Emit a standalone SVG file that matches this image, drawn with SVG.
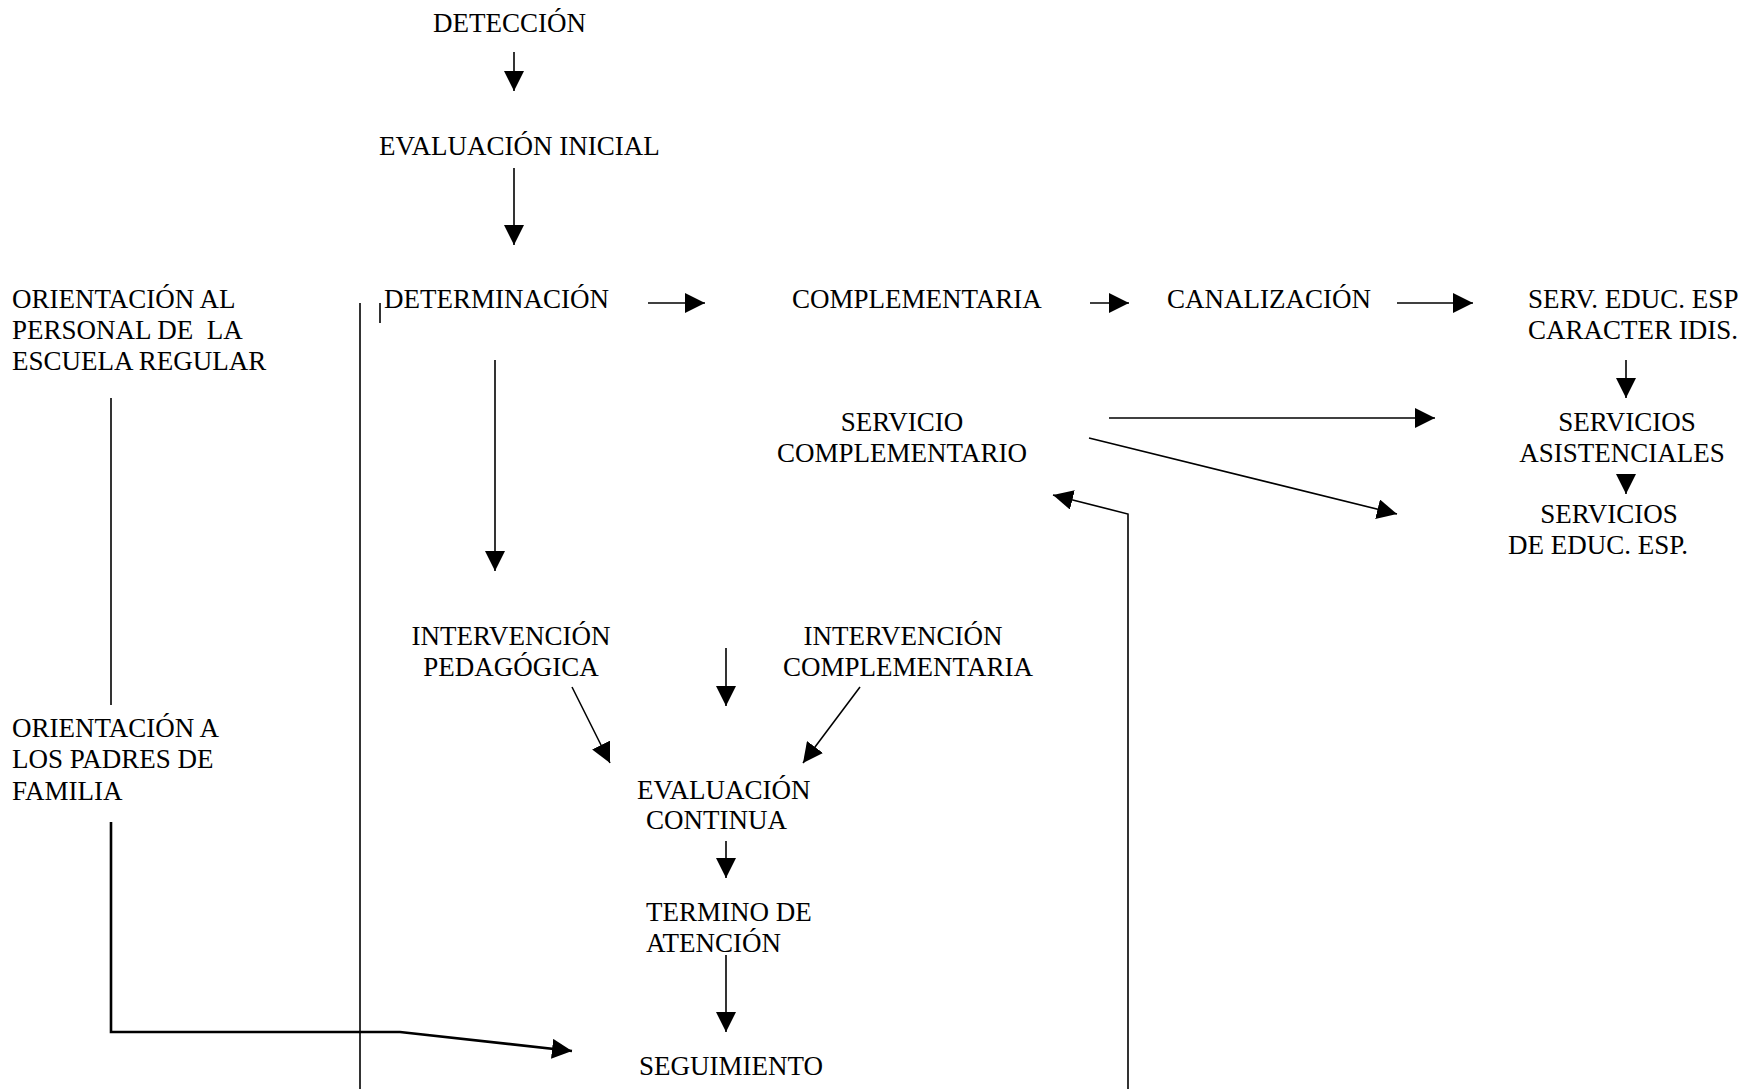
<svg xmlns="http://www.w3.org/2000/svg" width="1762" height="1089" viewBox="0 0 1762 1089">
<style>
  text { font-family: "Liberation Serif", "Times New Roman", serif; font-size: 27px; fill: #000; white-space: pre; }
  .c { text-anchor: middle; }
  .ln { stroke: #000; stroke-width: 1.6; fill: none; }
  .thick { stroke: #000; stroke-width: 2.6; fill: none; }
</style>
<defs>
  <marker id="ah" markerUnits="userSpaceOnUse" markerWidth="20" markerHeight="20" viewBox="0 0 20 20" refX="20" refY="10" orient="auto">
    <path d="M0,0 L20,10 L0,20 z" fill="#000"/>
  </marker>
</defs>
<rect width="1762" height="1089" fill="#fff"/>

<g id="n-deteccion"><text x="433" y="32">DETECCIÓN</text></g>
<g id="n-evaluacion-inicial"><text x="379" y="155">EVALUACIÓN INICIAL</text></g>
<g id="n-orientacion-personal">
  <text x="12" y="308">ORIENTACIÓN AL</text>
  <text x="12" y="339" xml:space="preserve">PERSONAL DE  LA</text>
  <text x="12" y="370">ESCUELA REGULAR</text>
</g>
<g id="n-determinacion"><text x="384" y="308">DETERMINACIÓN</text></g>
<g id="n-complementaria"><text x="792" y="308">COMPLEMENTARIA</text></g>
<g id="n-canalizacion"><text x="1167" y="308">CANALIZACIÓN</text></g>
<g id="n-serv-educ-esp">
  <text x="1528" y="308">SERV. EDUC. ESP</text>
  <text x="1528" y="339">CARACTER IDIS.</text>
</g>
<g id="n-servicio-complementario">
  <text class="c" x="902" y="431">SERVICIO</text>
  <text class="c" x="902" y="462">COMPLEMENTARIO</text>
</g>
<g id="n-servicios-asistenciales">
  <text class="c" x="1627" y="431">SERVICIOS</text>
  <text class="c" x="1622" y="462">ASISTENCIALES</text>
</g>
<g id="n-servicios-educ-esp">
  <text class="c" x="1609" y="523">SERVICIOS</text>
  <text class="c" x="1598" y="554">DE EDUC. ESP.</text>
</g>
<g id="n-intervencion-pedagogica">
  <text class="c" x="511" y="645">INTERVENCIÓN</text>
  <text class="c" x="511" y="676">PEDAGÓGICA</text>
</g>
<g id="n-intervencion-complementaria">
  <text class="c" x="903" y="645">INTERVENCIÓN</text>
  <text class="c" x="908" y="676">COMPLEMENTARIA</text>
</g>
<g id="n-orientacion-padres">
  <text x="12" y="737">ORIENTACIÓN A</text>
  <text x="12" y="768">LOS PADRES DE</text>
  <text x="12" y="800">FAMILIA</text>
</g>
<g id="n-evaluacion-continua">
  <text x="637" y="799">EVALUACIÓN</text>
  <text x="646" y="829">CONTINUA</text>
</g>
<g id="n-termino">
  <text x="646" y="921">TERMINO DE</text>
  <text x="646" y="952">ATENCIÓN</text>
</g>
<g id="n-seguimiento"><text x="639" y="1075">SEGUIMIENTO</text></g>

<g id="connectors">
  <line class="ln" x1="514" y1="52" x2="514" y2="91" marker-end="url(#ah)"/>
  <line class="ln" x1="514" y1="168" x2="514" y2="245" marker-end="url(#ah)"/>
  <line class="ln" x1="648" y1="303" x2="705" y2="303" marker-end="url(#ah)"/>
  <line class="ln" x1="1090" y1="303" x2="1129" y2="303" marker-end="url(#ah)"/>
  <line class="ln" x1="1397" y1="303" x2="1473" y2="303" marker-end="url(#ah)"/>
  <line class="ln" x1="1626" y1="360" x2="1626" y2="398" marker-end="url(#ah)"/>
  <line class="ln" x1="1626" y1="474" x2="1626" y2="494" marker-end="url(#ah)"/>
  <line class="ln" x1="1109" y1="418" x2="1435" y2="418" marker-end="url(#ah)"/>
  <line class="ln" x1="1089" y1="438" x2="1397" y2="514" marker-end="url(#ah)"/>
  <polyline class="ln" points="1128,1089 1128,514 1053,495" marker-end="url(#ah)"/>
  <line class="ln" x1="495" y1="360" x2="495" y2="571" marker-end="url(#ah)"/>
  <line class="ln" x1="726" y1="648" x2="726" y2="706" marker-end="url(#ah)"/>
  <line class="ln" x1="572" y1="687" x2="610" y2="763" marker-end="url(#ah)"/>
  <line class="ln" x1="860" y1="687" x2="803" y2="763" marker-end="url(#ah)"/>
  <line class="ln" x1="726" y1="841" x2="726" y2="878" marker-end="url(#ah)"/>
  <line class="ln" x1="726" y1="955" x2="726" y2="1032" marker-end="url(#ah)"/>
  <line class="ln" x1="360" y1="303" x2="360" y2="1089"/>
  <line class="ln" x1="380" y1="303" x2="380" y2="323"/>
  <line class="ln" x1="111" y1="398" x2="111" y2="705"/>
  <polyline class="thick" points="111,822 111,1032 400,1032 572,1051" marker-end="url(#ah)"/>
</g>
</svg>
